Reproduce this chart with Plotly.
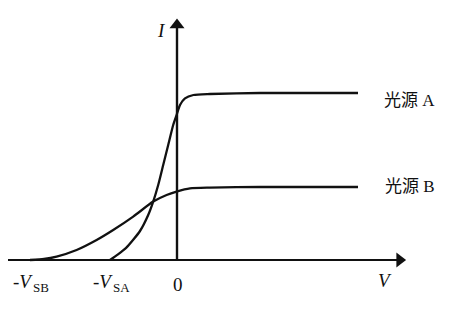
import plotly.graph_objects as go

# Curve for light source A (voltage, current) in arbitrary units
V_A = [-3.35, -2.95, -2.52, -1.85, -1.44, -1.19, -0.94, -0.69, -0.44, -0.19, -0.02, 0.15, 0.4, 0.82, 1.65, 4.15, 9.05]
I_A = [0.0, 0.28, 0.63, 1.45, 2.25, 2.92, 3.75, 4.75, 5.75, 6.75, 7.25, 7.75, 8.08, 8.25, 8.3, 8.35, 8.35]

# Curve for light source B
V_B = [-7.35, -6.65, -6.02, -5.02, -4.02, -3.19, -2.19, -1.19, -0.52, -0.02, 0.65, 1.65, 4.15, 9.05]
I_B = [0.0, 0.05, 0.17, 0.5, 1.0, 1.5, 2.17, 2.92, 3.25, 3.42, 3.58, 3.62, 3.65, 3.65]

V_SA = 3.35
V_SB = 7.35
labels = ["光源 A", "光源 B"]
tick_subs = ["SB", "SA"]

ink = "#111111"
serif = "Liberation Serif, Times New Roman, serif"
mixed = "Liberation Serif, Noto Sans CJK SC"

X_MIN, X_MAX = -8.85, 14.7
Y_MIN, Y_MAX = -2.6, 13.0
X_TIP, Y_TIP = 11.45, 12.1

fig = go.Figure()
for vx, iy in [(V_A, I_A), (V_B, I_B)]:
    fig.add_trace(go.Scatter(x=vx, y=iy, mode="lines",
                             line=dict(color=ink, width=2.3, shape="spline", smoothing=0.6),
                             hoverinfo="skip", showlegend=False))

# axis lines
fig.add_shape(type="line", x0=-8.45, y0=0, x1=X_TIP - 0.4, y1=0, line=dict(color=ink, width=2.2))
fig.add_shape(type="line", x0=0, y0=0, x1=0, y1=Y_TIP - 0.5, line=dict(color=ink, width=2.4))
# arrow heads
fig.add_trace(go.Scatter(x=[X_TIP - 0.32], y=[0], mode="markers",
                         marker=dict(symbol="triangle-right", size=13, color=ink),
                         hoverinfo="skip", showlegend=False))
fig.add_trace(go.Scatter(x=[0], y=[Y_TIP - 0.35], mode="markers",
                         marker=dict(symbol="triangle-up", size=13, color=ink),
                         hoverinfo="skip", showlegend=False))

# tick labels: "-V" with subscript drawn as a separate, smaller text
for pos, s in [(-V_SB, tick_subs[0]), (-V_SA, tick_subs[1])]:
    fig.add_annotation(x=pos - 0.35, y=-1.05, text="-<i>V</i>", showarrow=False,
                       font=dict(family=serif, size=19, color=ink))
    fig.add_annotation(x=pos + 0.55, y=-1.35, text=s, showarrow=False,
                       font=dict(family=serif, size=13, color=ink))
fig.add_annotation(x=0.05, y=-1.2, text="0", showarrow=False,
                   font=dict(family=serif, size=19, color=ink))
fig.add_annotation(x=10.4, y=-1.0, text="<i>V</i>", showarrow=False,
                   font=dict(family=serif, size=19, color=ink))
fig.add_annotation(x=-0.8, y=11.5, text="<i>I</i>", showarrow=False,
                   font=dict(family=serif, size=19, color=ink))

# series labels
fig.add_annotation(x=11.6, y=I_A[-1] - 0.35, text=labels[0], showarrow=False,
                   font=dict(family=mixed, size=17, color=ink))
fig.add_annotation(x=11.65, y=I_B[-1] + 0.05, text=labels[1], showarrow=False,
                   font=dict(family=mixed, size=17, color=ink))

fig.update_layout(
    width=471, height=312, margin=dict(l=0, r=0, t=0, b=0),
    paper_bgcolor="white", plot_bgcolor="white",
    xaxis=dict(range=[X_MIN, X_MAX], visible=False, fixedrange=True),
    yaxis=dict(range=[Y_MIN, Y_MAX], visible=False, fixedrange=True),
)
fig.write_html("out.html")
